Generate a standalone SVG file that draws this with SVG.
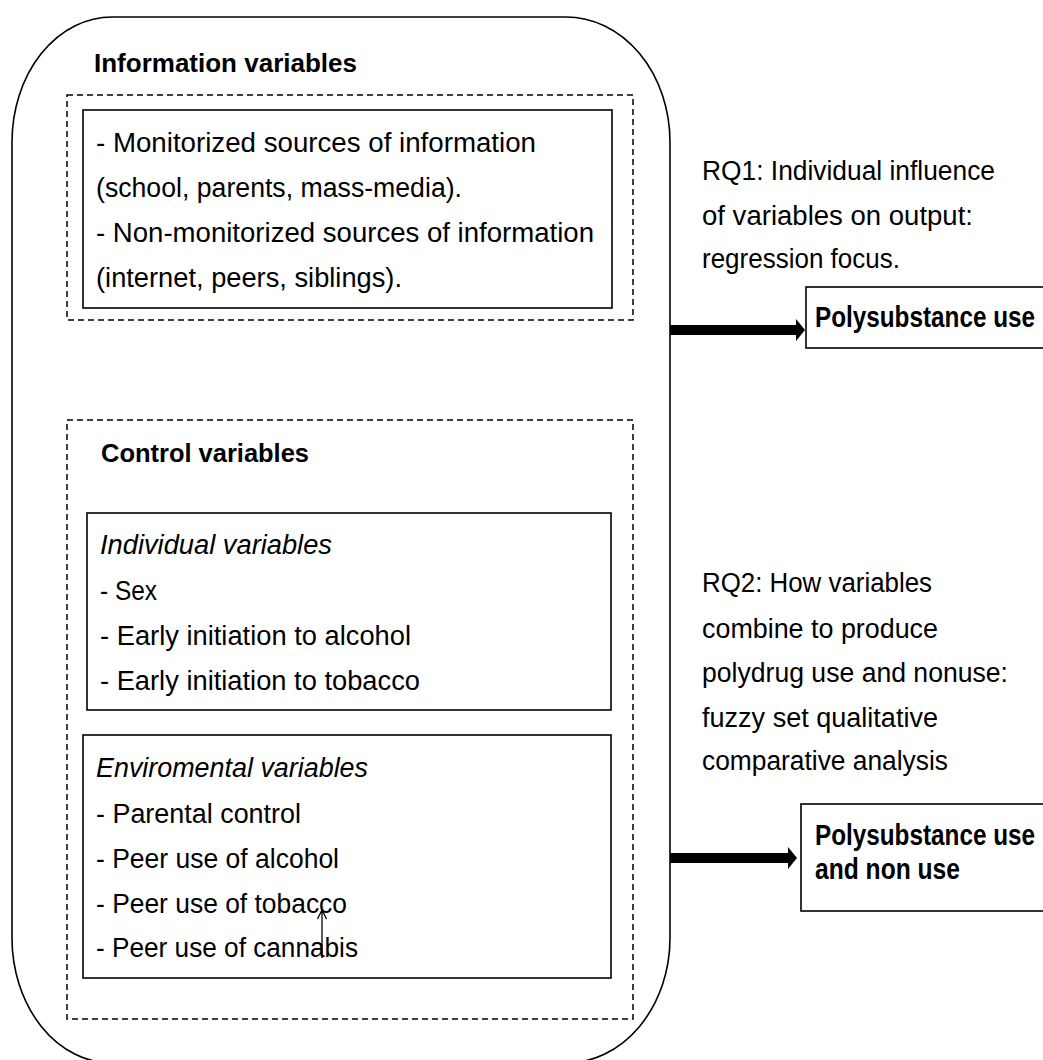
<svg xmlns="http://www.w3.org/2000/svg" width="1043" height="1060" viewBox="0 0 1043 1060">
<style>
text{font-family:"Liberation Sans",Arial,sans-serif;fill:#000;}
.b{font-size:27px;}
.h{font-size:26px;font-weight:bold;}
.i{font-size:27px;font-style:italic;}
.o{font-size:30px;font-weight:bold;}
.solid{fill:#fff;stroke:#000;stroke-width:1.6;}
.dash{fill:none;stroke:#000;stroke-width:1.5;stroke-dasharray:6 4;}
.arrow{fill:#000;stroke:none;}
</style>
<rect width="1043" height="1060" fill="#fff"/>
<g id="outer">
<path d="M112,17 H566 A104,125 0 0 1 670,142 V938 A104,125 0 0 1 566,1063 H112 A100,125 0 0 1 12,938 V142 A100,125 0 0 1 112,17 Z" fill="#fff" stroke="#000" stroke-width="1.6"/>
</g>
<g id="information">
<text class="h" x="94" y="72" textLength="263" lengthAdjust="spacingAndGlyphs">Information variables</text>
<rect class="dash" x="67" y="95" width="566" height="225"/>
<rect class="solid" x="83" y="110" width="529" height="198"/>
<text class="b" x="96" y="152" textLength="440" lengthAdjust="spacingAndGlyphs">- Monitorized sources of information</text>
<text class="b" x="96" y="197" textLength="366" lengthAdjust="spacingAndGlyphs">(school, parents, mass-media).</text>
<text class="b" x="96" y="242" textLength="498" lengthAdjust="spacingAndGlyphs">- Non-monitorized sources of information</text>
<text class="b" x="96" y="287" textLength="306" lengthAdjust="spacingAndGlyphs">(internet, peers, siblings).</text>
</g>
<g id="control">
<rect class="dash" x="67" y="420" width="566" height="599"/>
<text class="h" x="101" y="462" textLength="208" lengthAdjust="spacingAndGlyphs">Control variables</text>
</g>
<g id="individual">
<rect class="solid" x="87" y="513" width="524" height="197"/>
<text class="i" x="100" y="554" textLength="232" lengthAdjust="spacingAndGlyphs">Individual variables</text>
<text class="b" x="100" y="600" textLength="57" lengthAdjust="spacingAndGlyphs">- Sex</text>
<text class="b" x="100" y="645" textLength="311" lengthAdjust="spacingAndGlyphs">- Early initiation to alcohol</text>
<text class="b" x="100" y="690" textLength="320" lengthAdjust="spacingAndGlyphs">- Early initiation to tobacco</text>
</g>
<g id="environmental">
<rect class="solid" x="83" y="735" width="528" height="243"/>
<text class="i" x="96" y="777" textLength="272" lengthAdjust="spacingAndGlyphs">Enviromental variables</text>
<text class="b" x="96" y="823" textLength="205" lengthAdjust="spacingAndGlyphs">- Parental control</text>
<text class="b" x="96" y="868" textLength="243" lengthAdjust="spacingAndGlyphs">- Peer use of alcohol</text>
<text class="b" x="96" y="913" textLength="251" lengthAdjust="spacingAndGlyphs">- Peer use of tobacco</text>
<text class="b" x="96" y="957" textLength="262" lengthAdjust="spacingAndGlyphs">- Peer use of cannabis</text>
</g>
<g id="rq1">
<text class="b" x="702" y="180" textLength="293" lengthAdjust="spacingAndGlyphs">RQ1: Individual influence</text>
<text class="b" x="702" y="225" textLength="271" lengthAdjust="spacingAndGlyphs">of variables on output:</text>
<text class="b" x="702" y="268" textLength="198" lengthAdjust="spacingAndGlyphs">regression focus.</text>
</g>
<g id="rq2">
<text class="b" x="702" y="592" textLength="230" lengthAdjust="spacingAndGlyphs">RQ2: How variables</text>
<text class="b" x="702" y="638" textLength="236" lengthAdjust="spacingAndGlyphs">combine to produce</text>
<text class="b" x="702" y="682" textLength="306" lengthAdjust="spacingAndGlyphs">polydrug use and nonuse:</text>
<text class="b" x="702" y="727" textLength="236" lengthAdjust="spacingAndGlyphs">fuzzy set qualitative</text>
<text class="b" x="702" y="770" textLength="246" lengthAdjust="spacingAndGlyphs">comparative analysis</text>
</g>
<g id="output1">
<rect class="solid" x="806" y="287" width="250" height="61"/>
<text class="o" x="815" y="327" textLength="220" lengthAdjust="spacingAndGlyphs">Polysubstance use</text>
</g>
<g id="output2">
<rect class="solid" x="801" y="804" width="255" height="107"/>
<text class="o" x="815" y="845" textLength="220" lengthAdjust="spacingAndGlyphs">Polysubstance use</text>
<text class="o" x="815" y="879" textLength="145" lengthAdjust="spacingAndGlyphs">and non use</text>
</g>
<g id="connectors">
<path class="arrow" d="M670,325 H796 V319 L805,330 L796,341 V335 H670 Z"/>
<path class="arrow" d="M670,853 H788 V847 L797,858 L788,869 V863 H670 Z"/>
<path d="M322,958 V910 M317.5,919 L322,910 L326.5,919" fill="none" stroke="#000" stroke-width="1.3"/>
</g>
</svg>
